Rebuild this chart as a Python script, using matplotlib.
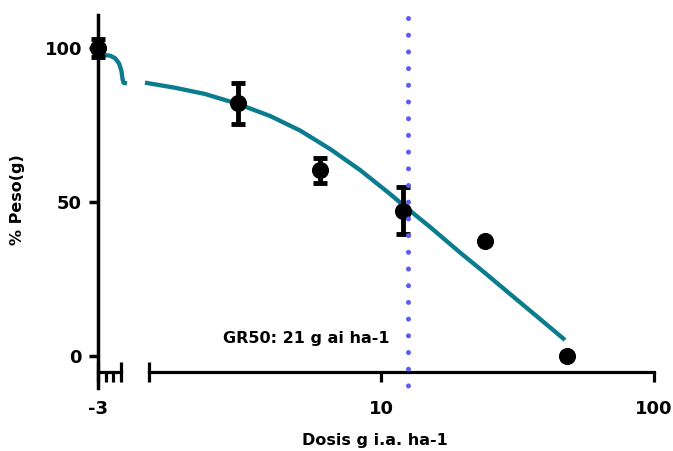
import matplotlib
matplotlib.use('Agg')
import matplotlib.pyplot as plt
import numpy as np
from matplotlib.ticker import FixedLocator, NullFormatter

# zero-dose point sits on the left (broken) segment, labelled -3
zero_x = -3
zero_y = 100
zero_err = 3

# dose-response means and SD
doses = [3, 6, 12, 24, 48]
weight = [82.0, 60.3, 47.2, 37.3, 0.0]
weight_err = [6.6, 4.1, 7.7, 0.0, 0.0]

# fitted curve
curve_left_x = [-2.783, -2.478, -2.261, -2.087, -1.978, -1.935, -1.891, -1.739]
curve_left_y = [97.7, 97.5, 96.7, 95.0, 92.5, 90.0, 88.7, 88.5]
curve_x = [1.366, 1.760, 2.266, 2.994, 3.921, 5.050, 6.505, 8.377,
           10.79, 12.04, 15.12, 19.47, 24.04, 29.69, 38.23, 47.21]
curve_y = [88.73, 87.08, 85.06, 81.82, 77.92, 73.21, 67.21, 60.39,
           52.60, 49.03, 41.88, 33.60, 26.95, 20.13, 12.01, 5.19]

gr50_line = 12.6
gr50_text = 'GR50: 21 g ai ha-1'

teal = '#0a7c8e'
dot_blue = '#5b5bf5'
W, H = 673, 451

fig = plt.figure(figsize=(W / 100, H / 100), dpi=100)

ylim = (-10.4, 110.7)
x_axis_y = -5.19
bottom = (H - 388) / H
height = 373 / H

ax_l = fig.add_axes([98 / W, bottom, 32 / W, height])
ax_r = fig.add_axes([140 / W, bottom, 525 / W, height])
for ax in (ax_l, ax_r):
    ax.set_facecolor('none')
    ax.set_ylim(*ylim)
    ax.spines['top'].set_visible(False)
    ax.spines['right'].set_visible(False)
    ax.spines['bottom'].set_position(('data', x_axis_y))
    ax.spines['bottom'].set_linewidth(2.3)
    ax.spines['left'].set_linewidth(2.5)

# left segment
ax_l.set_xlim(-3, -3 + 32 / 23)
ax_l.spines['bottom'].set_bounds(-3, -2)
ax_l.xaxis.set_major_locator(FixedLocator([-3, -2]))
ax_l.set_xticklabels(['-3', ''])
ax_l.xaxis.set_minor_locator(FixedLocator([-2.667, -2.333]))
ax_l.xaxis.set_minor_formatter(NullFormatter())
ax_l.tick_params(axis='x', which='major', direction='inout', length=13.7, width=2.3, pad=13)
ax_l.tick_params(axis='x', which='minor', direction='out', length=7, width=2.3)
ax_l.set_yticks([0, 50, 100])
ax_l.tick_params(axis='y', direction='out', length=6.5, width=2.5, pad=5)
for lab in ax_l.get_xticklabels() + ax_l.get_yticklabels():
    lab.set_fontsize(13)
    lab.set_fontweight('bold')

# right segment, log scale
ax_r.set_xscale('log')
ax_r.set_xlim(10 ** (1 + (140 - 381) / 273), 10 ** (1 + (665 - 381) / 273))
x_start = 10 ** (1 + (149 - 381) / 273)
ax_r.spines['left'].set_visible(False)
ax_r.spines['bottom'].set_bounds(x_start, 100)
ax_r.set_yticks([])
ax_r.xaxis.set_major_locator(FixedLocator([10, 100]))
ax_r.set_xticklabels(['10', '100'])
ax_r.xaxis.set_minor_locator(FixedLocator([x_start]))
ax_r.xaxis.set_minor_formatter(NullFormatter())
ax_r.tick_params(axis='x', which='major', direction='out', length=7, width=2.3, pad=13.5)
ax_r.tick_params(axis='x', which='minor', direction='inout', length=13.7, width=2.3)
for lab in ax_r.get_xticklabels():
    lab.set_fontsize(13)
    lab.set_fontweight('bold')

# curves
ax_l.plot(curve_left_x, curve_left_y, color=teal, lw=3.1, solid_capstyle='butt',
          solid_joinstyle='round', clip_on=False, zorder=2)
ax_r.plot(curve_x, curve_y, color=teal, lw=3.1, solid_capstyle='butt',
          solid_joinstyle='round', clip_on=False, zorder=2)

# GR50 dotted line, drawn top-down so the first dot sits at the top
ax_r.plot([gr50_line, gr50_line], [109.8, -10.2], color=dot_blue, lw=3.6,
          linestyle=(0, (0.01, 3.33)), dash_capstyle='round', clip_on=False, zorder=5)

# data points
ax_l.errorbar([zero_x], [zero_y], yerr=[zero_err], fmt='o', color='black', ms=11.3,
              elinewidth=3.5, capsize=5.3, capthick=3.5, clip_on=False, zorder=4)
d = np.array(doses)
w = np.array(weight)
e = np.array(weight_err)
m = e > 0
ax_r.errorbar(d[m], w[m], yerr=e[m], fmt='none', ecolor='black',
              elinewidth=3.5, capsize=5.3, capthick=3.5, clip_on=False, zorder=4)
ax_r.plot(d, w, 'o', color='black', ms=11.3, clip_on=False, zorder=4)

ax_r.text(10 ** (1 + (223 - 381) / 273), 4.2, gr50_text, fontsize=11.5,
          fontweight='bold', ha='left', va='baseline')

fig.text(375 / W, 1 - 440 / H, 'Dosis g i.a. ha-1', fontsize=11.5, fontweight='bold',
         ha='center', va='center')
fig.text(18 / W, 1 - 200 / H, '% Peso(g)', fontsize=11.5, fontweight='bold',
         ha='center', va='center', rotation=90)

fig.savefig('out.png', dpi=100)
